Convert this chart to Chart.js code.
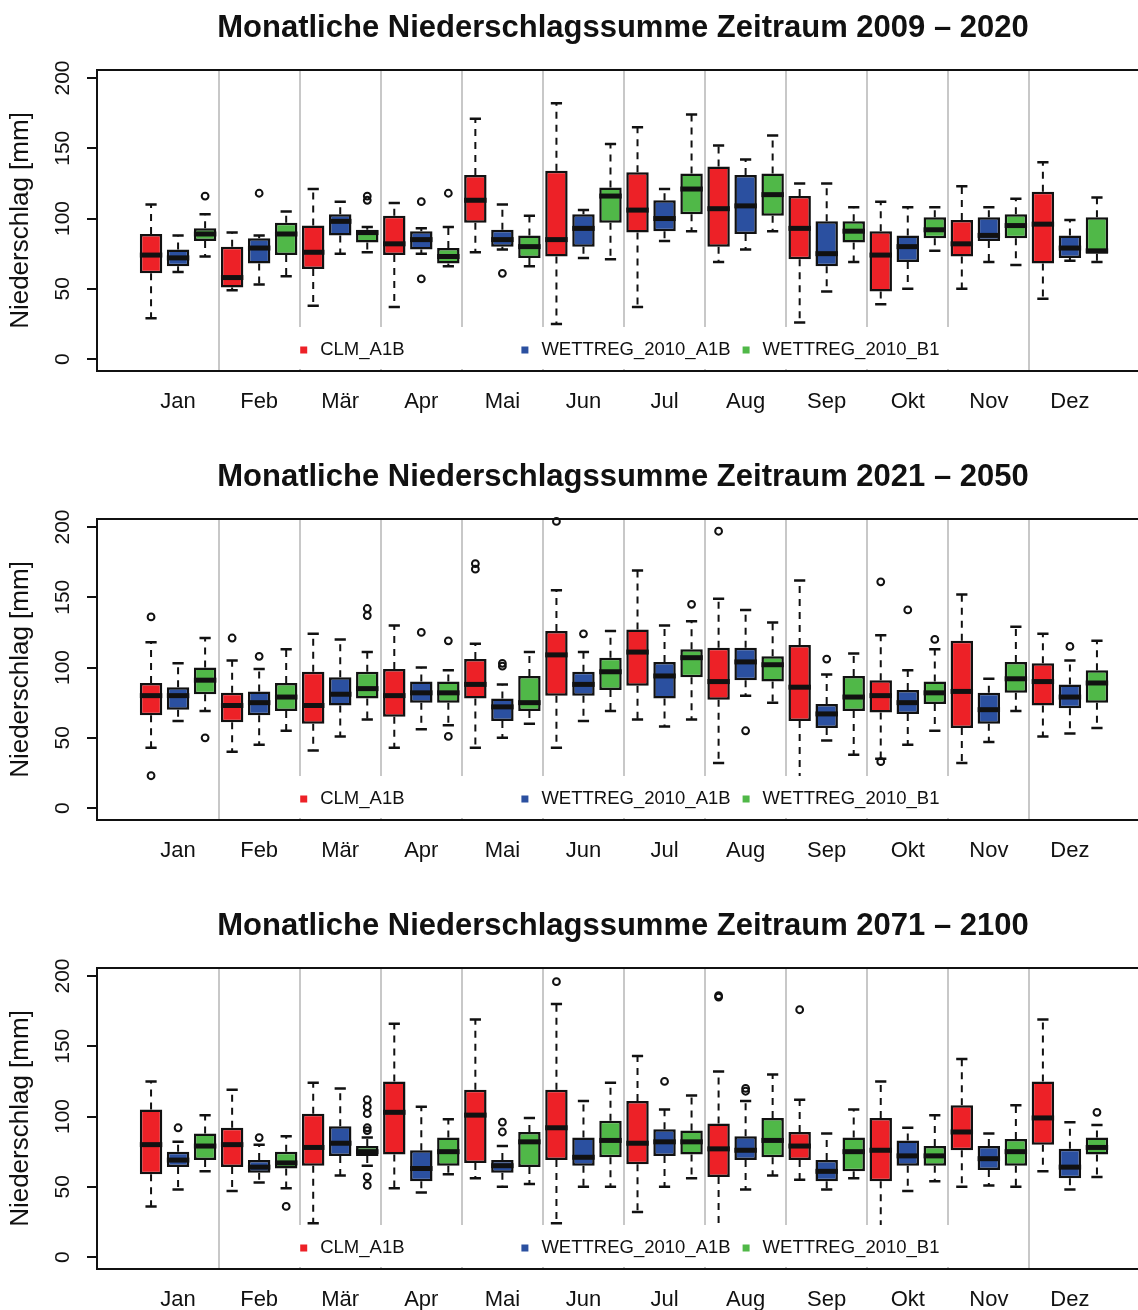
<!DOCTYPE html>
<html>
<head>
<meta charset="utf-8">
<script src="https://cdn.jsdelivr.net/npm/chart.js@4.4.1/dist/chart.umd.min.js"></script>
<style>
  html, body { margin: 0; padding: 0; background: #fff; overflow: hidden; width: 1138px; height: 1310px; }
  #wrap { width: 1246px; }
  canvas { display: block; width: 1246px; height: 449px; }
</style>
</head>
<body>
<div id="wrap">
<canvas id="p1" width="1246" height="449"></canvas>
<canvas id="p2" width="1246" height="449"></canvas>
<canvas id="p3" width="1246" height="449"></canvas>
</div>
<script>
// month labels, series, y ticks
const months = ["Jan", "Feb", "Mär", "Apr", "Mai", "Jun", "Jul", "Aug", "Sep", "Okt", "Nov", "Dez"];
const seriesNames = ["CLM_A1B", "WETTREG_2010_A1B", "WETTREG_2010_B1"];
const seriesColors = ["#ED2127", "#2B50A0", "#50B848"];
const yTicks = [0, 50, 100, 150, 200];

// box stats per month: [lower whisker, q1, median, q3, upper whisker]
// 2009 - 2020
const clm0920 = [[29,61,74,89,110],[49,51,58,80,90],[38,64,76,95,121],[37,74,82,102,111],[76,97,113,131,171],[25,73,85,134,182],
                 [37,90,106,133,165],[69,80,107,137,152],[26,71,93,116,125],[39,48,74,91,112],[50,73,82,99,123],[43,68,96,119,140]];
const wa1b0920 = [[62,66,72,78,88],[53,68,79,86,88],[75,88,98,103,112],[75,78,85,91,93],[78,80,85,92,110],[72,80,93,103,106],
                  [84,91,100,113,121],[78,89,109,131,142],[48,66,75,98,125],[50,69,80,88,108],[69,84,88,101,108],[70,72,79,88,99]];
const wb10920 = [[73,84,89,93,103],[59,74,89,97,105],[76,83,90,92,94],[66,68,73,79,94],[66,72,80,88,102],[71,97,116,122,153],
                 [91,103,121,132,174],[91,102,117,132,159],[69,83,91,98,108],[77,86,92,101,108],[67,86,95,103,114],[69,75,77,101,115]];
const clm0920Out = [[],[],[],[],[],[],[],[],[],[],[],[]];
const wa1b0920Out = [[],[118],[],[112,57],[61],[],[],[],[],[],[],[]];
const wb10920Out = [[116],[],[116,113],[118],[],[],[],[],[],[],[],[]];

// 2021 - 2050
const clm2150 = [[43,66,80,89,118],[40,61,73,82,105],[41,60,73,97,124],[43,65,80,99,130],[43,78,88,106,117],[43,80,109,126,155],
                 [63,87,111,127,169],[32,77,90,114,149],[18,62,86,116,162],[35,68,80,91,123],[32,57,83,119,152],[51,73,90,103,124]];
const wa1b2150 = [[62,70,80,86,103],[45,66,75,83,99],[51,73,81,93,120],[56,75,82,90,100],[50,62,72,78,88],[62,80,88,97,111],
                  [58,78,94,104,130],[80,91,104,114,141],[48,57,67,74,95],[45,67,75,84,98],[47,60,70,82,92],[53,71,79,88,105]];
const wb12150 = [[69,81,91,100,121],[55,69,79,89,113],[63,78,85,97,111],[59,75,82,90,98],[60,69,75,94,111],[69,84,97,107,126],
                 [63,93,107,113,133],[75,90,102,108,132],[38,69,79,94,110],[55,74,82,90,113],[69,82,92,104,129],[57,75,89,98,119]];
const clm2150Out = [[136,23],[121],[],[],[174,170],[204],[],[197],[],[161,33],[],[]];
const wa1b2150Out = [[],[108],[],[125],[103,101],[124],[],[55],[106],[141],[],[115]];
const wb12150Out = [[50],[],[142,137],[119,51],[],[],[145],[],[],[120],[],[]];

// 2071 - 2100
const clm7100 = [[36,59,80,105,125],[47,64,80,92,119],[24,65,78,102,124],[49,73,103,125,166],[56,67,101,119,169],[24,69,92,119,180],
                 [32,66,81,111,143],[22,57,77,95,132],[55,69,79,89,112],[22,54,76,99,125],[50,76,89,108,141],[61,80,99,125,169]];
const wa1b7100 = [[48,64,69,75,82],[53,60,64,69,80],[58,72,81,93,120],[46,54,63,76,107],[50,60,65,69,79],[50,65,71,85,111],
                  [50,72,82,91,105],[48,69,76,86,111],[48,54,61,69,88],[47,65,72,83,92],[51,62,70,79,88],[48,56,64,77,96]];
const wb17100 = [[61,69,79,88,101],[49,63,67,75,86],[65,72,75,79,85],[59,65,75,85,98],[52,64,82,89,99],[50,71,83,97,124],
                 [56,73,82,90,115],[58,71,83,99,130],[56,61,75,85,105],[54,65,72,79,101],[50,65,75,84,108],[57,73,78,85,94]];
const clm7100Out = [[],[],[],[],[],[196],[],[186,185],[176],[],[],[]];
const wa1b7100Out = [[92],[85],[],[],[96,89],[],[125],[120,118],[],[],[],[]];
const wb17100Out = [[],[36],[112,107,102,92,90,57,51],[],[],[],[],[],[],[],[],[103]];

const panels = [
    { id: "p1", title: "Monatliche Niederschlagssumme Zeitraum 2009 – 2020",
      stats: [clm0920, wa1b0920, wb10920], outliers: [clm0920Out, wa1b0920Out, wb10920Out] },
    { id: "p2", title: "Monatliche Niederschlagssumme Zeitraum 2021 – 2050",
      stats: [clm2150, wa1b2150, wb12150], outliers: [clm2150Out, wa1b2150Out, wb12150Out] },
    { id: "p3", title: "Monatliche Niederschlagssumme Zeitraum 2071 – 2100",
      stats: [clm7100, wa1b7100, wb17100], outliers: [clm7100Out, wa1b7100Out, wb17100Out] }
];

const fontFamily = "'Liberation Sans', Arial, Helvetica, sans-serif";
Chart.defaults.font.family = fontFamily;
const ink = "#111";

// whiskers, caps, medians and outliers, placed on the bars of each dataset
const boxPlugin = {
    id: "boxWhiskers",
    beforeDatasetsDraw(chart) {
        const ctx = chart.ctx, y = chart.scales.y;
        chart.data.datasets.forEach((ds, d) => {
            chart.getDatasetMeta(d).data.forEach((bar, i) => {
                const [lo, q1, , q3, hi] = ds.stats[i];
                const cx = bar.x, cap = bar.width / 4;
                ctx.save();
                ctx.strokeStyle = ink;
                ctx.lineWidth = 2;
                ctx.setLineDash([7, 6]);
                ctx.beginPath();
                ctx.moveTo(cx, y.getPixelForValue(q3));
                ctx.lineTo(cx, y.getPixelForValue(hi));
                ctx.moveTo(cx, y.getPixelForValue(q1));
                ctx.lineTo(cx, y.getPixelForValue(lo));
                ctx.stroke();
                ctx.setLineDash([]);
                ctx.lineWidth = 2.5;
                ctx.beginPath();
                ctx.moveTo(cx - cap, y.getPixelForValue(hi));
                ctx.lineTo(cx + cap, y.getPixelForValue(hi));
                ctx.moveTo(cx - cap, y.getPixelForValue(lo));
                ctx.lineTo(cx + cap, y.getPixelForValue(lo));
                ctx.stroke();
                ctx.restore();
            });
        });
    },
    afterDatasetsDraw(chart) {
        const ctx = chart.ctx, y = chart.scales.y;
        chart.data.datasets.forEach((ds, d) => {
            chart.getDatasetMeta(d).data.forEach((bar, i) => {
                const med = ds.stats[i][2];
                const half = bar.width / 2;
                ctx.save();
                ctx.strokeStyle = ink;
                ctx.lineWidth = 5;
                ctx.beginPath();
                ctx.moveTo(bar.x - half, y.getPixelForValue(med));
                ctx.lineTo(bar.x + half, y.getPixelForValue(med));
                ctx.stroke();
                ctx.lineWidth = 2;
                ds.outliers[i].forEach(v => {
                    ctx.beginPath();
                    ctx.arc(bar.x, y.getPixelForValue(v), 3.4, 0, Math.PI * 2);
                    ctx.stroke();
                });
                ctx.restore();
            });
        });
    }
};

// legend inside the plot, on a white box at the bottom
const legendPlugin = {
    id: "boxLegend",
    afterDraw(chart) {
        const { ctx, chartArea } = chart;
        ctx.save();
        ctx.font = "18.5px " + fontFamily;
        const textW = Math.max(...seriesNames.map(n => ctx.measureText(n).width));
        const itemW = textW + 32;
        const cx = (chartArea.left + chartArea.right) / 2;
        const left = cx - itemW * seriesNames.length / 2;
        ctx.fillStyle = "#fff";
        ctx.fillRect(left, chartArea.bottom - 44, itemW * seriesNames.length, 42);
        const ly = chartArea.bottom - 21;
        ctx.textBaseline = "middle";
        seriesNames.forEach((name, k) => {
            const x0 = left + k * itemW;
            ctx.fillStyle = seriesColors[k];
            ctx.fillRect(x0 + 8, ly - 3.5, 7, 7);
            ctx.fillStyle = ink;
            ctx.fillText(name, x0 + 28, ly);
        });
        ctx.restore();
    }
};

panels.forEach(p => {
    const datasets = p.stats.map((st, k) => ({
        label: seriesNames[k],
        data: st.map((s, i) => ({ x: i + 1, y: [s[1], s[3]] })),
        stats: st,
        outliers: p.outliers[k],
        backgroundColor: seriesColors[k],
        borderColor: ink,
        borderWidth: 2.5,
        borderSkipped: false,
        barPercentage: 0.83,
        categoryPercentage: 1,
        xAxisID: "x",
        yAxisID: "y"
    }));

    new Chart(document.getElementById(p.id), {
        type: "bar",
        data: { datasets: datasets },
        options: {
            responsive: false,
            animation: false,
            devicePixelRatio: 1,
            layout: { padding: 0 },
            plugins: {
                legend: { display: false },
                tooltip: { enabled: false },
                title: {
                    display: true,
                    text: p.title,
                    color: ink,
                    font: { size: 31, weight: "bold" },
                    padding: { top: 10, bottom: 22.8 }
                }
            },
            scales: {
                x: {
                    type: "linear",
                    position: "bottom",
                    offset: false,
                    min: 0,
                    max: 13,
                    afterBuildTicks: s => { s.ticks = months.map((m, i) => ({ value: i + 1 })); },
                    afterFit: s => { s.height = 78; },
                    ticks: {
                        autoSkip: false,
                        maxRotation: 0,
                        padding: 18,
                        color: ink,
                        font: { size: 22 },
                        callback: v => months[v - 1]
                    },
                    grid: { display: false, drawTicks: false, offset: false },
                    border: { display: true, color: ink, width: 2 }
                },
                xsep: {
                    type: "linear",
                    position: "top",
                    offset: false,
                    min: 0,
                    max: 13,
                    afterBuildTicks: s => { s.ticks = months.slice(1).map((m, i) => ({ value: i + 1.5 })); },
                    afterFit: s => { s.height = 0; },
                    ticks: { display: false },
                    grid: { color: "#c8c8c8", lineWidth: 2, drawTicks: false, offset: false },
                    border: { display: true, color: ink, width: 2 }
                },
                // empty right margin, the plot runs past the picture's edge
                yr: {
                    type: "linear",
                    position: "right",
                    min: 0,
                    max: 1,
                    afterFit: s => { s.width = 95; },
                    ticks: { display: false },
                    grid: { display: false, drawTicks: false },
                    border: { display: false }
                },
                y: {
                    type: "linear",
                    position: "left",
                    min: -8.5,
                    max: 205.7,
                    afterBuildTicks: s => { s.ticks = yTicks.map(v => ({ value: v })); },
                    afterFit: s => { s.width = 97; },
                    ticks: {
                        minRotation: 90,
                        maxRotation: 90,
                        crossAlign: "center",
                        padding: 6,
                        color: ink,
                        font: { size: 21 }
                    },
                    grid: { drawOnChartArea: false, drawTicks: true, tickLength: 10, color: ink, lineWidth: 2 },
                    border: { display: true, color: ink, width: 2 },
                    title: {
                        display: true,
                        text: "Niederschlag [mm]",
                        color: ink,
                        font: { size: 26 },
                        padding: { top: 5.4, bottom: 0 }
                    }
                }
            }
        },
        plugins: [boxPlugin, legendPlugin]
    });
});
</script>
</body>
</html>
